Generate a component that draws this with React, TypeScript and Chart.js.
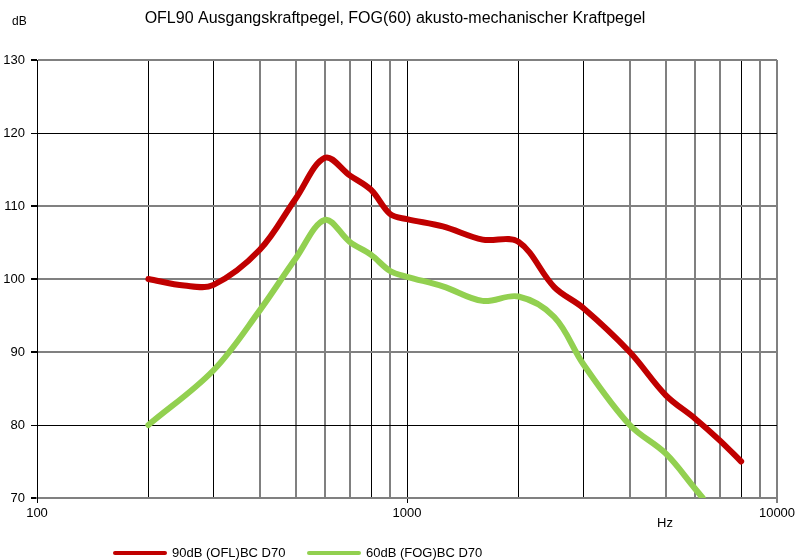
import React, { useEffect, useRef } from "react";
import { Chart, registerables } from "chart.js";

Chart.register(...registerables);

const TITLE = "OFL90 Ausgangskraftpegel, FOG(60) akusto-mechanischer Kraftpegel";
const Y_UNIT = "dB";
const X_UNIT = "Hz";

const freqOFL = [200, 250, 300, 400, 500, 600, 700, 800, 900, 1000, 1250, 1600, 2000, 2500, 3000, 4000, 5000, 6000, 7000, 8000];
const valuesOFL = [100, 99.1, 99.2, 104.0, 111.0, 116.6, 114.2, 112.2, 108.9, 108.2, 107.2, 105.4, 105.1, 98.9, 96.0, 90.0, 84.1, 80.9, 77.9, 75.0];

const freqFOG = [200, 300, 400, 500, 600, 700, 800, 900, 1000, 1250, 1600, 2000, 2500, 3000, 4000, 5000, 6000, 6300];
const valuesFOG = [80, 87.5, 95.7, 102.8, 108.1, 105.1, 103.3, 101.1, 100.3, 99.0, 97.0, 97.6, 94.8, 88.3, 80.0, 76.1, 71.3, 70.0];

const xGridValues = [100, 200, 300, 400, 500, 600, 700, 800, 900, 1000, 2000, 3000, 4000, 5000, 6000, 7000, 8000, 9000, 10000];
const xLabelValues = [100, 1000, 10000];
const yMin = 70;
const yMax = 130;
const yStep = 10;

const LABEL_OFL = "90dB (OFL)BC D70";
const LABEL_FOG = "60dB (FOG)BC D70";

const FONT = "'Liberation Sans', Arial, sans-serif";

const crispX = [100, 200, 300, 800, 1000, 2000, 3000, 8000];
const crispY = [120, 80];

export default function App() {
  const ref = useRef<HTMLCanvasElement | null>(null);

  useEffect(() => {
    if (!ref.current) return;
    const textPlugin = {
      id: "texts",
      afterDraw(chart: any) {
        const ctx = chart.ctx as CanvasRenderingContext2D;
        ctx.save();
        ctx.fillStyle = "#000";
        ctx.textBaseline = "middle";
        ctx.font = `16px ${FONT}`;
        ctx.textAlign = "center";
        ctx.fillText(TITLE, 395, 19);
        ctx.font = `12px ${FONT}`;
        ctx.textAlign = "left";
        ctx.fillText(Y_UNIT, 12, 22);
        ctx.font = `13px ${FONT}`;
        ctx.fillText(X_UNIT, 657, 523);
        const items = chart.data.datasets.map((d: any) => ({ label: d.label, color: d.borderColor }));
        const xs = [113, 307];
        items.forEach((it: any, i: number) => {
          const x0 = xs[i];
          ctx.strokeStyle = it.color;
          ctx.lineWidth = 4;
          ctx.lineCap = "round";
          ctx.beginPath();
          ctx.moveTo(x0 + 2, 553);
          ctx.lineTo(x0 + 52, 553);
          ctx.stroke();
          ctx.fillStyle = "#000";
          ctx.font = `13px ${FONT}`;
          ctx.fillText(it.label, x0 + 59, 553);
        });
        ctx.restore();
      },
    };

    const chart = new Chart(ref.current, {
      type: "line",
      data: {
        datasets: [
          {
            label: LABEL_OFL,
            data: freqOFL.map((f, i) => ({ x: f, y: valuesOFL[i] })),
            borderColor: "#C00000",
            backgroundColor: "#C00000",
            borderWidth: 6,
            pointRadius: 0,
            tension: 0.35,
            borderCapStyle: "round",
            borderJoinStyle: "round",
          },
          {
            label: LABEL_FOG,
            data: freqFOG.map((f, i) => ({ x: f, y: valuesFOG[i] })),
            borderColor: "#92D050",
            backgroundColor: "#92D050",
            borderWidth: 6,
            pointRadius: 0,
            tension: 0.35,
            borderCapStyle: "round",
            borderJoinStyle: "round",
          },
        ],
      },
      options: {
        responsive: false,
        animation: false,
        layout: { padding: { top: 60, right: 19, left: 0, bottom: 0 } },
        plugins: {
          legend: { display: false },
          title: { display: false },
          tooltip: { enabled: false },
        },
        scales: {
          x: {
            type: "logarithmic",
            min: 100,
            max: 10000,
            afterBuildTicks: (scale: any) => {
              scale.ticks = xGridValues.map((v) => ({ value: v, major: xLabelValues.includes(v) }));
            },
            afterFit: (scale: any) => {
              scale.height = 62;
              scale.paddingLeft = 0;
              scale.paddingRight = 0;
            },
            ticks: {
              autoSkip: false,
              maxRotation: 0,
              minRotation: 0,
              padding: 3,
              color: "#000",
              font: { family: FONT, size: 13 },
              callback: (v: any) => (xLabelValues.includes(Number(v)) ? String(v) : ""),
            },
            grid: {
              drawTicks: true,
              tickLength: 5,
              tickWidth: 1,
              tickColor: (c: any) => (c.tick && xLabelValues.includes(c.tick.value) ? "#000" : "rgba(0,0,0,0)"),
              color: (c: any) => (c.tick && crispX.includes(c.tick.value) ? "#000" : "#808080"),
              lineWidth: (c: any) => (c.tick && crispX.includes(c.tick.value) ? 1 : 2),
            },
            border: { display: true, color: "#808080", width: 2 },
          },
          y: {
            type: "linear",
            min: yMin,
            max: yMax,
            afterFit: (scale: any) => {
              scale.width = 37;
              scale.paddingTop = 0;
              scale.paddingBottom = 0;
            },
            ticks: {
              stepSize: yStep,
              padding: 6,
              color: "#000",
              font: { family: FONT, size: 13 },
            },
            grid: {
              drawTicks: true,
              tickLength: 6,
              tickColor: "#000",
              color: (c: any) => (c.tick && crispY.includes(c.tick.value) ? "#000" : "#808080"),
              lineWidth: (c: any) => (c.tick && crispY.includes(c.tick.value) ? 1 : 2),
            },
            border: { display: true, color: "#000", width: 1 },
          },
        },
      },
      plugins: [textPlugin],
    } as any);
    return () => chart.destroy();
  }, []);

  return (
    <div style={{ position: "absolute", left: 0, top: 0, width: 796, height: 560, background: "#fff" }}>
      <canvas ref={ref} width={796} height={560} style={{ display: "block" }} />
    </div>
  );
}
